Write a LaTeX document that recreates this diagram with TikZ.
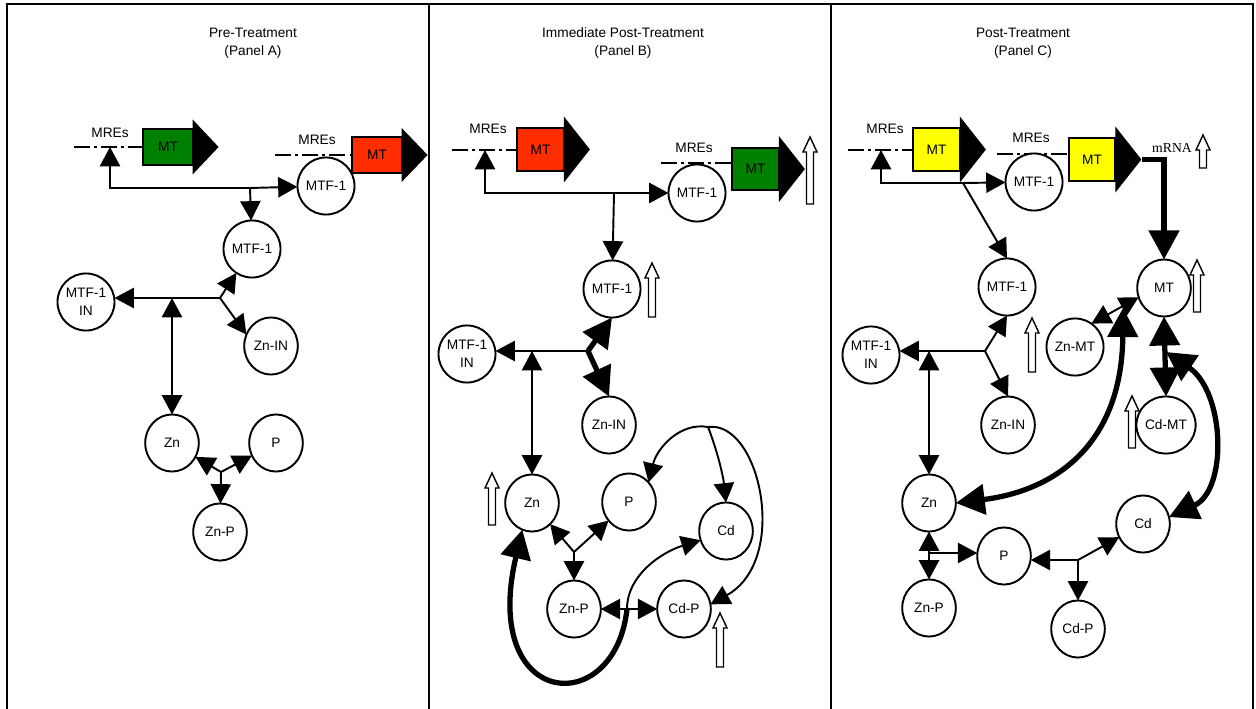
\documentclass[tikz,border=0pt]{standalone}
\usepackage{fontspec}
\setmainfont{Liberation Sans}
\newfontfamily\rnafont{Liberation Serif}
\usetikzlibrary{arrows.meta,shapes.geometric}
\definecolor{geneGreen}{RGB}{0,128,0}
\definecolor{geneRed}{RGB}{255,45,0}
\definecolor{geneYellow}{RGB}{255,255,0}

\begin{document}
\begin{tikzpicture}[x=0.02cm,y=-0.02cm,font=\fontsize{7.8}{10.2}\selectfont]
\tikzset{species/.style = {ellipse,draw,fill=white,line width=1.1pt,inner sep=0pt,outer sep=0pt,minimum width=30.5pt,minimum height=32.5pt,align=center}}
\tikzset{gene/.style = {rectangle,draw,line width=1.1pt,inner sep=0pt,outer sep=0pt,minimum width=26.6pt,minimum height=24.4pt}}
\tikzset{link/.style = {line width=1.1pt,> = {Triangle[length=11pt,width=11.5pt]}}}
\tikzset{heavy/.style = {line width=3pt,> = {Triangle[length=16.5pt,width=17pt]}}}
\tikzset{mre/.style = {line width=1.1pt,dash pattern=on 9pt off 2.5pt on 1.5pt off 2.5pt}}
\tikzset{rise/.style = {line width=0.8pt,fill=white}}
\useasboundingbox (0,0) rectangle (1256,709);

% frames
\draw[line width=1.1pt] (7,709) -- (7,4) -- (1253,4) -- (1253,709);
\draw[line width=1.1pt] (429,4) -- (429,709);
\draw[line width=1.1pt] (831,4) -- (831,709);

% Panel A
\node[align=center] (titleA) at (253,43) {Pre-Treatment\\(Panel A)};
\node (mresA1) at (110,133) {MREs};
\node (mresA2) at (317,140) {MREs};
\node[gene,fill=geneGreen,minimum width=28pt,minimum height=20.5pt] (geneA1) at (168,147) {MT};
\node[gene,fill=geneRed,minimum width=28pt,minimum height=20.5pt] (geneA2) at (377,155) {MT};
\coordinate (lineA1) at (74,147);
\coordinate (lineA2) at (275,155);
\coordinate (siteA) at (110,147);
\draw[mre] (lineA1) -- (lineA1 -| geneA1.west);
\draw[mre] (lineA2) -- (lineA2 -| geneA2.west);
\node[species] (mtfTopA) at (326,186) {MTF-1};
\node[species] (mtfA) at (252,249) {MTF-1};
\node[species] (mtfinA) at (86,302) {MTF-1\\IN};
\node[species] (zninA) at (271,346) {Zn-IN};
\node[species] (znA) at (172,443) {Zn};
\node[species] (pA) at (276,443) {P};
\node[species] (znpA) at (220,532) {Zn-P};
\coordinate (jA1) at (250,188);
\coordinate (jA2) at (220,298);
\coordinate (jA3) at (221,472);
\draw[link,->] (jA1) -| (siteA);
\draw[link,->] (jA1) -- (mtfTopA);
\draw[link,->] (jA1) -- (mtfA);
\draw[link,->] (jA2) -- (jA2 -| mtfinA.east);
\draw[link,->] (jA2) -- (mtfA);
\draw[link,->] (jA2) -- (zninA.155);
\draw[link,<->] (jA2 -| znA) -- (znA);
\draw[link,->] (jA3) -- (znA);
\draw[link,->] (jA3) -- (pA);
\draw[link,->] (jA3) -- (znpA);

% Panel B
\node[align=center] (titleB) at (623,43) {Immediate Post-Treatment\\(Panel B)};
\node (mresB1) at (488,129) {MREs};
\node (mresB2) at (694,148) {MREs};
\node[gene,fill=geneRed] (geneB1) at (540.5,149.5) {MT};
\node[gene,fill=geneGreen] (geneB2) at (755.5,169) {MT};
\coordinate (lineB1) at (452,150);
\coordinate (lineB2) at (661,163);
\coordinate (siteB) at (485,150);
\draw[mre] (lineB1) -- (lineB1 -| geneB1.west);
\draw[mre] (lineB2) -- (lineB2 -| geneB2.west);
\node[species] (mtfTopB) at (697,193) {MTF-1};
\node[species] (mtfB) at (612,289) {MTF-1};
\node[species] (mtfinB) at (467,354) {MTF-1\\IN};
\node[species] (zninB) at (609,425) {Zn-IN};
\node[species] (znB) at (532,503) {Zn};
\node[species] (pB) at (629,502) {P};
\node[species] (cdB) at (726,531) {Cd};
\node[species] (znpB) at (574,609) {Zn-P};
\node[species] (cdpB) at (684,609) {Cd-P};
\coordinate (jB1) at (614,193);
\coordinate (jB2) at (588,351);
\coordinate (jB3) at (574,552);
\coordinate (jB4) at (627,609);
\coordinate (jB5) at (708,427);
\draw[link,->] (jB1) -| (siteB);
\draw[link,->] (jB1) -- (mtfTopB);
\draw[link,->] (jB1) -- (mtfB);
\draw[link,->] (jB2) -- (jB2 -| mtfinB.east);
\draw[heavy,->] (jB2) -- (mtfB.south);
\draw[heavy,->] (jB2) -- (zninB.north);
\draw[link,<->] (jB2 -| znB) -- (znB);
\draw[link,->] (jB3) -- (znB);
\draw[link,->] (jB3) -- (pB);
\draw[link,->] (jB3) -- (znpB);
\draw[link,<->] (znpB) -- (cdpB);
\draw[link,->] (jB4) .. controls (627,575) and (662,552) .. (cdB.200);
\draw[heavy,->] (jB4) .. controls (615,720) and (480,710) .. (znB.250);
\draw[link,->] (jB5) .. controls (680,422) and (657,448) .. (pB.45);
\draw[link,->] (jB5) .. controls (717,450) and (723,475) .. (cdB.north);
\draw[link,->] (jB5) .. controls (760,420) and (790,560) .. (cdpB.10);

% Panel C
\node[align=center] (titleC) at (1023,43) {Post-Treatment\\(Panel C)};
\node (mresC1) at (885,129) {MREs};
\node (mresC2) at (1031,138) {MREs};
\node[gene,fill=geneYellow] (geneC1) at (936.5,149.5) {MT};
\node[gene,fill=geneYellow] (geneC2) at (1092,159.5) {MT};
\node[font={\rnafont\fontsize{7.8}{10.2}\selectfont}] (mrna) at (1172,148) {mRNA};
\coordinate (lineC1) at (848,150);
\coordinate (lineC2) at (997,154);
\coordinate (siteC) at (881,150);
\coordinate (apexC) at (1142,159.5);
\draw[mre] (lineC1) -- (lineC1 -| geneC1.west);
\draw[mre] (lineC2) -- (lineC2 -| geneC2.west);
\node[species] (mtfTopC) at (1034,182) {MTF-1};
\node[species] (mtC) at (1164,288) {MT};
\node[species] (mtfC) at (1007,287) {MTF-1};
\node[species] (mtfinC) at (871,355) {MTF-1\\IN};
\node[species] (zninC) at (1008,425) {Zn-IN};
\node[species] (znmtC) at (1075,347) {Zn-MT};
\node[species] (cdmtC) at (1166,425) {Cd-MT};
\node[species] (znC) at (929,503) {Zn};
\node[species] (pC) at (1004,556) {P};
\node[species] (znpC) at (929,608) {Zn-P};
\node[species] (cdpC) at (1078,629) {Cd-P};
\node[species] (cdC) at (1143,524) {Cd};
\coordinate (jC1) at (963,183);
\coordinate (jC2) at (985,351);
\coordinate (jC3) at (929,553);
\coordinate (jC4) at (1078,560);
\coordinate (jC5) at (1166,352);
\coordinate (jC6) at (1123,308);
\draw[link,->] (jC1) -| (siteC);
\draw[link,->] (jC1) -- (mtfTopC);
\draw[link,->] (jC1) -- (mtfC.north);
\draw[heavy,->] (apexC) -| (mtC.north);
\draw[link,->] (jC2) -- (jC2 -| mtfinC.east);
\draw[link,->] (jC2) -- (mtfC.south);
\draw[link,->] (jC2) -- (zninC.north);
\draw[link,<->] (jC2 -| znC) -- (znC);
\draw[link,<->] (znmtC.55) -- (mtC.200);
\draw[heavy,<->] (mtC.south) -- (cdmtC.north);
\draw[heavy,<->] (jC5) .. controls (1225,392) and (1228,490) .. (cdC.15);
\draw[heavy,<->] (jC6) .. controls (1122,440) and (1060,490) .. (znC.east);
\draw[link,<->] (znC) -- (znpC);
\draw[link,->] (jC3) -- (jC3 -| pC.west);
\draw[link,->] (jC4) -- (jC4 -| pC.east);
\draw[link,->] (jC4) -- (cdpC);
\draw[link,->] (jC4) -- (cdC);

% gene arrows and rise marks
\foreach \g/\h in {geneA1/27.5,geneA2/27,geneB1/33,geneB2/33,geneC1/33,geneC2/33}
  \fill (\g.east) ++(0,-\h) -- ++(26,\h) -- ++(-26,\h) -- cycle;
\foreach \px/\ptop/\pbot in {810/137/204,652/263/317,492/473/525,720/613/667,1203/135/168,1197/260/312,1032/318/372,1132/396/448}
  \draw[rise] ({\px-3.5},\pbot) -- ({\px-3.5},{\ptop+15}) -- ({\px-7},{\ptop+15}) -- (\px,\ptop) -- ({\px+7},{\ptop+15}) -- ({\px+3.5},{\ptop+15}) -- ({\px+3.5},\pbot) -- cycle;
\end{tikzpicture}
\end{document}
